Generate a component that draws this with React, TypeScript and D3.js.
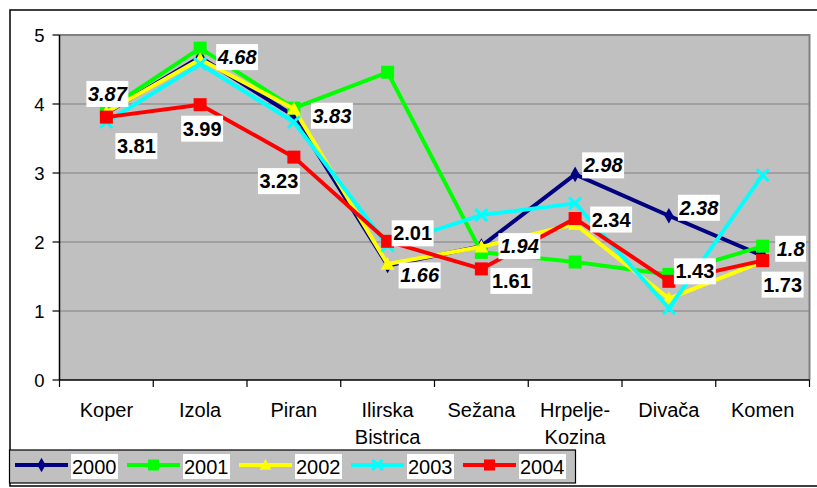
import React from "react";
import * as d3 from "d3";

const categories = ["Koper", "Izola", "Piran", "Ilirska Bistrica", "Sežana", "Hrpelje- Kozina", "Divača", "Komen"];
const categoryLines = [["Koper"], ["Izola"], ["Piran"], ["Ilirska", "Bistrica"], ["Sežana"], ["Hrpelje-", "Kozina"], ["Divača"], ["Komen"]];
const yTicks = [0, 1, 2, 3, 4, 5];
const seriesNames = ["2000", "2001", "2002", "2003", "2004"];
const s2000 = [3.87, 4.68, 3.83, 1.66, 1.94, 2.98, 2.38, 1.8];
const s2001 = [3.91, 4.81, 3.94, 4.46, 1.85, 1.71, 1.53, 1.94];
const s2002 = [3.88, 4.65, 3.93, 1.68, 1.93, 2.26, 1.18, 1.72];
const s2003 = [3.74, 4.58, 3.74, 1.95, 2.39, 2.56, 1.04, 2.97];
const s2004 = [3.81, 3.99, 3.23, 2.01, 1.61, 2.34, 1.43, 1.73];
const labels2000 = ["3.87", "4.68", "3.83", "1.66", "1.94", "2.98", "2.38", "1.8"];
const labels2004 = ["3.81", "3.99", "3.23", "2.01", "1.61", "2.34", "1.43", "1.73"];

// styling (label offsets relative to the point, box centre)
const off2000 = [[1, -19], [37, 0], [38, 0], [32, 10], [38, 0], [28, -9], [30, -8], [28, -7]];
const off2004 = [[30, 29], [2, 24], [-15, 24], [25, -8], [30, 12], [36, 1], [26, -10], [20, 24]];
const colors = ["#000080", "#00FF00", "#FFFF00", "#00FFFF", "#FF0000"];
const markers = ["diamond", "square", "triangle", "x", "square"];

const FONT = "'Liberation Sans', Arial, sans-serif";

function Marker({ type, color, x, y, s = 1 }: any) {
  if (type === "diamond") {
    const p = d3.symbol(d3.symbolDiamond, 70 * s)();
    return <path d={p || ""} transform={`translate(${x},${y})`} fill={color} />;
  }
  if (type === "square") {
    const h = 6.5 * s;
    return <rect x={x - h} y={y - h} width={2 * h} height={2 * h} fill={color} />;
  }
  if (type === "triangle") {
    const h = 7 * s;
    return <path d={`M${x},${y - h}L${x + h},${y + h * 0.8}L${x - h},${y + h * 0.8}Z`} fill={color} />;
  }
  const h = 6 * s;
  return (
    <path
      d={`M${x - h},${y - h}L${x + h},${y + h}M${x - h},${y + h}L${x + h},${y - h}`}
      stroke={color}
      strokeWidth={3}
      fill="none"
    />
  );
}

export default function App() {
  const series = [s2000, s2001, s2002, s2003, s2004];
  const left = 59.5, right = 809.5, top = 35, bottom = 380;
  const x = d3.scaleBand<string>().domain(categories).range([left, right]);
  const y = d3.scaleLinear().domain([0, 5]).range([bottom, top]);
  const cx = (i: number) => (x(categories[i]) as number) + x.bandwidth() / 2;
  const line = d3
    .line<number>()
    .x((_, i) => cx(i))
    .y((d) => y(d));

  const labelW = (t: string, fs: number) =>
    t.split("").reduce((a, c) => a + (c === "." ? 0.278 : 0.556) * fs, 0);

  const drawLabels = (vals: number[], texts: string[], offs: number[][], italic: boolean, key: string) =>
    vals.map((v, i) => {
      const fs = 20;
      const w = labelW(texts[i], fs) + 3;
      const h = 26;
      const bx = cx(i) + offs[i][0];
      const by = y(v) + offs[i][1];
      return (
        <g key={key + i}>
          <rect x={bx - w / 2} y={by - h / 2} width={w} height={h} fill="#fff" />
          <text
            x={bx}
            y={by + 7}
            textAnchor="middle"
            fontFamily={FONT}
            fontWeight="bold"
            fontStyle={italic ? "italic" : "normal"}
            fontSize={fs}
            fill="#000"
          >
            {texts[i]}
          </text>
        </g>
      );
    });

  const ticksX = d3.range(categories.length + 1).map((i) => left + i * x.bandwidth());

  return (
    <svg
      width={817}
      height={488}
      style={{ position: "absolute", left: 0, top: 0, background: "#fff" }}
    >
      <rect x={10} y={10} width={900} height={476} fill="#fff" stroke="#000" strokeWidth={1.5} />
      {/* plot area */}
      <rect x={left} y={top} width={right - left} height={bottom - top} fill="#C0C0C0" />
      {yTicks.filter((t) => t > 0 && t < 5).map((t) => (
        <line key={"g" + t} x1={left} x2={right} y1={y(t)} y2={y(t)} stroke="#808080" strokeWidth={1.2} />
      ))}
      <path d={`M${left},${top}L${right},${top}L${right},${bottom}`} fill="none" stroke="#808080" strokeWidth={2} />
      {/* axes */}
      <line x1={left} x2={left} y1={top} y2={bottom} stroke="#000" strokeWidth={1.5} />
      <line x1={left} x2={right} y1={bottom} y2={bottom} stroke="#000" strokeWidth={1.5} />
      {yTicks.map((t) => (
        <g key={"yt" + t}>
          <line x1={left - 7} x2={left} y1={y(t)} y2={y(t)} stroke="#000" strokeWidth={1.2} />
          <text x={44.5} y={y(t) + 6.5} textAnchor="end" fontFamily={FONT} fontSize={18.5} fill="#000">
            {t}
          </text>
        </g>
      ))}
      {ticksX.map((tx, i) => (
        <line key={"xt" + i} x1={tx} x2={tx} y1={bottom} y2={bottom + 7} stroke="#000" strokeWidth={1.2} />
      ))}
      {categoryLines.map((lines, i) => (
        <text key={"c" + i} textAnchor="middle" fontFamily={FONT} fontSize={20} fill="#000">
          {lines.map((l, j) => (
            <tspan key={j} x={cx(i)} y={416.5 + j * 27}>
              {l}
            </tspan>
          ))}
        </text>
      ))}
      {/* series */}
      {series.map((s, k) => (
        <g key={"s" + k}>
          <path d={line(s) || ""} fill="none" stroke={colors[k]} strokeWidth={4} strokeLinejoin="round" />
          {s.map((v, i) => (
            <Marker key={i} type={markers[k]} color={colors[k]} x={cx(i)} y={y(v)} />
          ))}
        </g>
      ))}
      {drawLabels(s2000, labels2000, off2000, true, "a")}
      {drawLabels(s2004, labels2004, off2004, false, "b")}
      {/* legend */}
      <rect x={9.5} y={450} width={566} height={33} fill="#C0C0C0" stroke="#000" strokeWidth={1.2} />
      {seriesNames.map((n, k) => {
        const lx = 15 + k * 112;
        const ly = 465;
        return (
          <g key={"l" + k}>
            <line x1={lx} x2={lx + 53} y1={ly} y2={ly} stroke={colors[k]} strokeWidth={4} />
            <Marker type={markers[k]} color={colors[k]} x={lx + 26.5} y={ly} s={0.85} />
            <rect x={lx + 56} y={454} width={47} height={25} fill="#fff" />
            <text x={lx + 57} y={474} fontFamily={FONT} fontSize={20} fill="#000">
              {n}
            </text>
          </g>
        );
      })}
    </svg>
  );
}
